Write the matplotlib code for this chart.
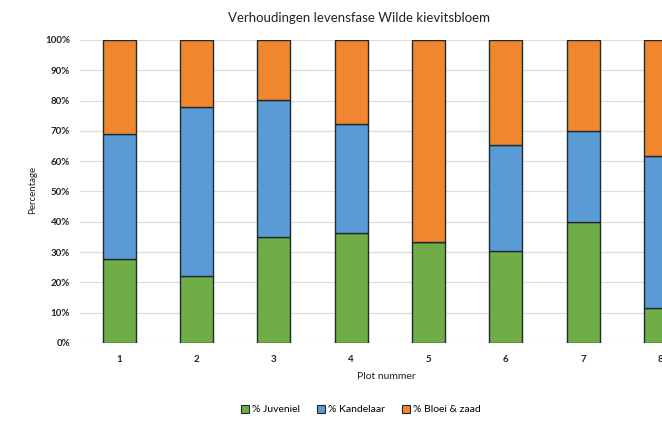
import matplotlib
matplotlib.use("Agg")
import matplotlib.pyplot as plt
from matplotlib.patches import Patch
from matplotlib.ticker import PercentFormatter
import numpy as np

plots = ["1", "2", "3", "4", "5", "6", "7", "8"]
juveniel = [27.8, 22.2, 34.9, 36.2, 33.4, 30.5, 40.0, 11.4]
kandelaar = [41.2, 55.8, 45.3, 36.1, 0.0, 34.8, 30.1, 50.4]
bloei_zaad = [31.0, 22.0, 19.8, 27.7, 66.6, 34.7, 29.9, 38.2]

series_names = ["% Juveniel", "% Kandelaar", "% Bloei & zaad"]
colors = ["#70AD47", "#5B9BD5", "#F0862E"]

plt.rcParams["font.family"] = ["Lato", "DejaVu Sans"]

fig = plt.figure(figsize=(6.62, 4.21), dpi=100)
ax = fig.add_axes([0.1216, 0.1853, 0.8784, 0.7197])

x = np.arange(1, len(plots) + 1)
width = 0.425
bottom = np.zeros(len(plots))
for vals, col in zip([juveniel, kandelaar, bloei_zaad], colors):
    v = np.array(vals) / 100.0
    ax.bar(x, v, width, bottom=bottom, color=col, edgecolor="#1d2b30",
           linewidth=1.0, zorder=3)
    bottom += v

ax.set_xlim(0.5, 8.02)
ax.set_ylim(0, 1)
ax.set_yticks(np.linspace(0, 1, 11))
ax.yaxis.set_major_formatter(PercentFormatter(1.0, decimals=0))
ax.set_xticks(x)
ax.set_xticklabels(plots)
ax.tick_params(axis="both", length=0, labelsize=7, colors="#222222")
ax.tick_params(axis="x", pad=9)
ax.tick_params(axis="y", pad=7.5)
for lab in ax.get_xticklabels() + ax.get_yticklabels():
    lab.set_fontweight("bold")
ax.grid(axis="y", color="#DEDEDE", linewidth=0.9, zorder=0)
for s in ax.spines.values():
    s.set_visible(False)

fig.text(0.542, 0.957, "Verhoudingen levensfase Wilde kievitsbloem",
         ha="center", va="center", fontsize=9.5, color="#222222")
fig.text(0.583, 0.105, "Plot nummer", ha="center", va="center",
         fontsize=7.5, color="#222222")
fig.text(0.05, 0.55, "Percentage", ha="center", va="center",
         rotation=90, fontsize=7, color="#222222")

handles = [Patch(facecolor=c, edgecolor="#1d2b30", linewidth=0.8) for c in colors]
fig.legend(handles, series_names, loc="center", bbox_to_anchor=(0.545, 0.027),
           ncol=3, frameon=False, fontsize=7.5, handlelength=0.8,
           handleheight=0.8, handletextpad=0.3, columnspacing=1.6)

fig.savefig("out.png", dpi=100)
